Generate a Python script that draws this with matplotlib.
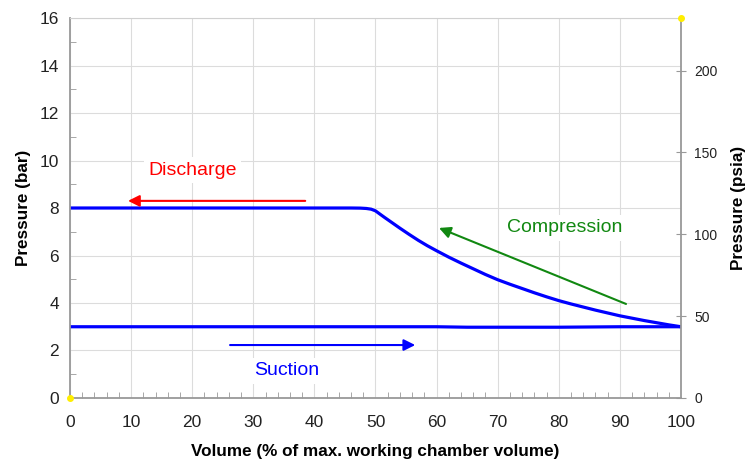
import matplotlib
matplotlib.use('Agg')
import matplotlib.pyplot as plt
from matplotlib.ticker import MultipleLocator

plt.rcParams['font.family'] = ['Liberation Sans', 'DejaVu Sans']

# Compression / discharge curve (bar) vs volume (%)
vol_upper = [0, 46, 47.5, 48.5, 49.3, 50, 50.8, 51.5, 52.5, 54, 55.5, 57, 58.5, 60, 62, 64, 66, 68,
             70, 72, 74, 76, 78, 80, 82, 84, 86, 88, 90, 92, 94, 96, 98, 100]
p_upper = [8.0, 8.0, 7.995, 7.98, 7.95, 7.88, 7.73, 7.6, 7.42, 7.15, 6.89, 6.64, 6.41, 6.2, 5.93, 5.68, 5.44, 5.2,
           4.98, 4.79, 4.61, 4.43, 4.26, 4.1, 3.96, 3.83, 3.7, 3.58, 3.46, 3.36, 3.26, 3.17, 3.08, 3.0]

# Suction line
vol_lower = [0, 60, 65, 80, 90, 100]
p_lower = [3.0, 3.0, 2.98, 2.98, 3.0, 3.0]

BAR_TO_PSI = 14.5038

fig = plt.figure(figsize=(7.5, 4.63), dpi=100)
ax = fig.add_axes([0.0933, 0.1404, 0.8147, 0.8207])

ax.plot(vol_upper, p_upper, color='#0000ff', lw=2.3, solid_capstyle='round', solid_joinstyle='round')
ax.plot(vol_lower, p_lower, color='#0000ff', lw=2.3, solid_capstyle='round', solid_joinstyle='round')

ax.set_xlim(0, 100)
ax.set_ylim(0, 16)
ax.xaxis.set_major_locator(MultipleLocator(10))
ax.xaxis.set_minor_locator(MultipleLocator(2))
ax.yaxis.set_major_locator(MultipleLocator(2))
ax.yaxis.set_minor_locator(MultipleLocator(1))
ax.grid(True, which='major', color='#dcdcdc', lw=0.8)
ax.set_axisbelow(True)
ax.tick_params(which='major', direction='in', length=0, labelsize=12.5, colors='#222222')
ax.tick_params(axis='x', which='major', pad=12)
ax.tick_params(axis='y', which='major', pad=8)
ax.tick_params(which='minor', direction='in', length=4, color='#999999')
ax.tick_params(axis='both', which='both', color='#999999')
for side in ['left', 'bottom', 'right']:
    ax.spines[side].set_color('#999999')
    ax.spines[side].set_linewidth(1.3)
ax.spines['top'].set_color('#d0d0d0')

ax.set_xlabel('Volume (% of max. working chamber volume)', fontsize=12.3, fontweight='bold', labelpad=10)
ax.set_ylabel('Pressure (bar)', fontsize=12.3, fontweight='bold', labelpad=6)

ax2 = ax.twinx()
ax2.set_ylim(0, 16 * BAR_TO_PSI)
ax2.yaxis.set_major_locator(MultipleLocator(50))
ax2.tick_params(direction='inout', length=7, color='#999999', labelsize=10, pad=6, labelcolor='#222222')
for side in ['left', 'bottom', 'top', 'right']:
    ax2.spines[side].set_visible(False)
ax2.set_ylabel('Pressure (psia)', fontsize=12.3, fontweight='bold', labelpad=10)

# annotations
arrow_kw = dict(arrowstyle='-|>', lw=1.5, mutation_scale=17, shrinkA=0, shrinkB=0)
ax.annotate('', xy=(9.5, 8.3), xytext=(38.5, 8.3), arrowprops=dict(color='#ff0000', **arrow_kw))
ax.text(20.1, 9.6, 'Discharge', color='#ff0000', fontsize=14, ha='center', va='center',
        bbox=dict(facecolor='white', edgecolor='none', pad=3))

ax.annotate('', xy=(56.5, 2.23), xytext=(26.2, 2.23), arrowprops=dict(color='#0000ff', **arrow_kw))
ax.text(35.4, 1.14, 'Suction', color='#0000ff', fontsize=14, ha='center', va='center',
        bbox=dict(facecolor='white', edgecolor='none', pad=3))

ax.annotate('', xy=(60.4, 7.16), xytext=(91, 3.96), arrowprops=dict(color='#118811', **arrow_kw))
ax.text(80.9, 7.16, 'Compression', color='#118811', fontsize=14, ha='center', va='center',
        bbox=dict(facecolor='white', edgecolor='none', pad=3))

ax.plot([0, 100], [0, 16], ls='none', marker='o', ms=4, color='#ffee00', clip_on=False, zorder=10)

fig.savefig('out.png', dpi=100)
